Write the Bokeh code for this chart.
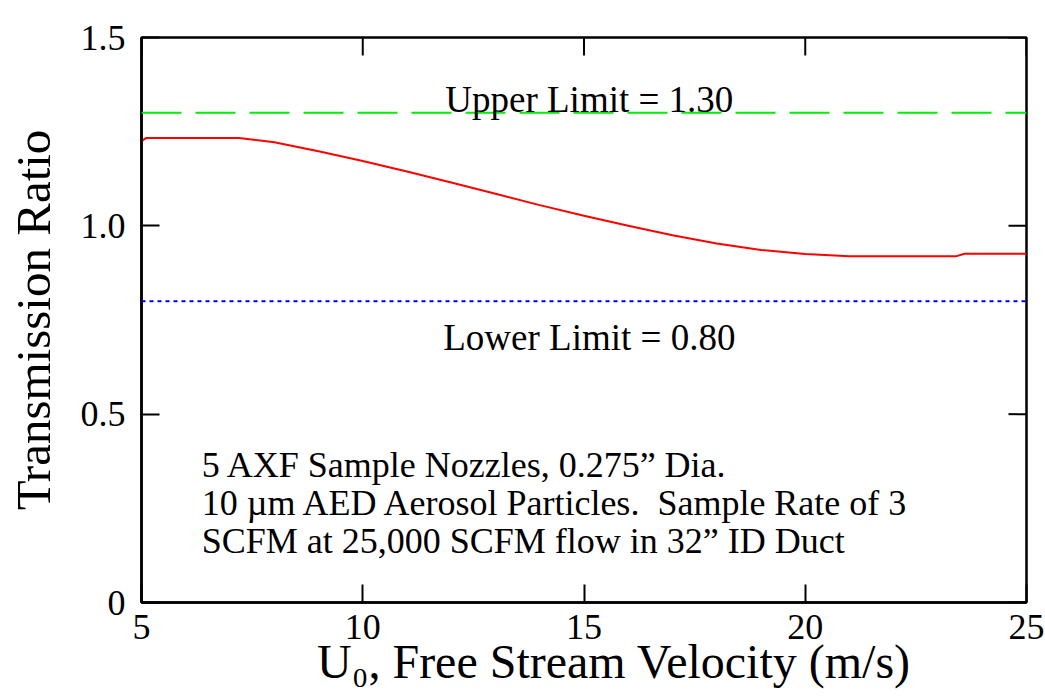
from bokeh.plotting import figure
from bokeh.models import Range1d, FixedTicker, Span, Label, LinearAxis
from bokeh.embed import file_html
from bokeh.resources import INLINE

# ---- data ----
velocity = [5.0, 5.1, 7.2, 8.0, 9.0, 10.0, 11.0, 12.0, 13.0, 14.0, 15.0,
            16.0, 17.0, 18.0, 19.0, 20.0, 21.0, 22.0, 23.4, 23.6, 25.0]
transmission = [1.225, 1.233, 1.233, 1.222, 1.198, 1.172, 1.144, 1.115, 1.085,
                1.055, 1.027, 1.000, 0.975, 0.953, 0.936, 0.925, 0.919, 0.919,
                0.919, 0.926, 0.926]
upper_limit = 1.30
lower_limit = 0.80
x_ticks = [5, 10, 15, 20, 25]
y_ticks = [0, 0.5, 1.0, 1.5]
y_tick_labels = {0: "0", 0.5: "0.5", 1.0: "1.0", 1.5: "1.5"}
x_title = "\u00a0\u00a0\u00a0\u00a0\u00a0U\u2080, Free Stream Velocity (m/s)"
y_title = "Transmission Ratio"
note_lines = ["5 AXF Sample Nozzles, 0.275\u201d Dia.",
              "10 \u00b5m AED Aerosol Particles.\u00a0 Sample Rate of 3",
              "SCFM at 25,000 SCFM flow in 32\u201d ID Duct"]

FONT = "Liberation Serif"
X0, X1, Y0, Y1 = 5, 25, 0, 1.5
TICK_PX = 18
FRAME_W, FRAME_H = 885, 565

p = figure(width=1045, height=697, output_backend="svg", toolbar_location=None,
           x_range=Range1d(X0, X1), y_range=Range1d(Y0, Y1),
           min_border_left=141, min_border_right=19, min_border_top=37,
           min_border_bottom=95, x_axis_location=None, y_axis_location=None)
p.grid.visible = False
p.outline_line_color = "black"
p.outline_line_width = 2.5

def style_axis(ax):
    ax.axis_line_color = "black"
    ax.axis_line_width = 2.5
    ax.major_tick_in = TICK_PX
    ax.major_tick_out = 0
    ax.major_tick_line_width = 2
    ax.minor_tick_line_color = None
    ax.major_label_text_font = FONT
    ax.major_label_text_font_size = "36px"
    ax.major_label_text_color = "black"

bottom = LinearAxis(ticker=FixedTicker(ticks=x_ticks))
style_axis(bottom)
bottom.major_label_standoff = 12
bottom.axis_label = x_title
bottom.axis_label_text_font = FONT
bottom.axis_label_text_font_style = "normal"
bottom.axis_label_text_font_size = "48px"
bottom.axis_label_text_color = "black"
bottom.axis_label_standoff = -7
p.add_layout(bottom, "below")

left = LinearAxis(ticker=FixedTicker(ticks=y_ticks))
left.major_label_overrides = y_tick_labels
style_axis(left)
left.major_label_standoff = 16
left.axis_label = y_title
left.axis_label_text_font = FONT
left.axis_label_text_font_style = "normal"
left.axis_label_text_font_size = "49px"
left.axis_label_text_color = "black"
left.axis_label_standoff = 17
p.add_layout(left, "left")

# inward ticks on top and right edges (from the same tick arrays)
tick_dy = TICK_PX * (Y1 - Y0) / FRAME_H
tick_dx = TICK_PX * (X1 - X0) / FRAME_W
p.segment(x0=x_ticks, y0=[Y1] * len(x_ticks), x1=x_ticks, y1=[Y1 - tick_dy] * len(x_ticks),
          line_color="black", line_width=2)
p.segment(x0=[X1] * len(y_ticks), y0=y_ticks, x1=[X1 - tick_dx] * len(y_ticks), y1=y_ticks,
          line_color="black", line_width=2)

# limit lines
p.add_layout(Span(location=upper_limit, dimension="width", line_color="#00ee00",
                  line_width=2, line_dash="40 14"))
p.add_layout(Span(location=lower_limit, dimension="width", line_color="#0000ee",
                  line_width=2, line_dash="4 4"))

p.line(velocity, transmission, line_color="red", line_width=2)

p.add_layout(Label(x=15.12, y=upper_limit + 0.035, text=f"Upper Limit = {upper_limit:.2f}",
                   text_align="center", text_baseline="alphabetic", text_color="black",
                   text_font=FONT, text_font_size="37px"))
p.add_layout(Label(x=15.12, y=lower_limit - 0.097, text=f"Lower Limit = {lower_limit:.2f}",
                   text_align="center", text_baseline="alphabetic", text_color="black",
                   text_font=FONT, text_font_size="37px"))

note_x = 6.36
note_y0 = 0.364
note_step = 0.101
for i, line in enumerate(note_lines):
    p.add_layout(Label(x=note_x, y=note_y0 - i * note_step, text=line,
                       text_align="left", text_baseline="alphabetic", text_color="black",
                       text_font=FONT, text_font_size="36px"))

open("out.html", "w").write(file_html(p, INLINE))
